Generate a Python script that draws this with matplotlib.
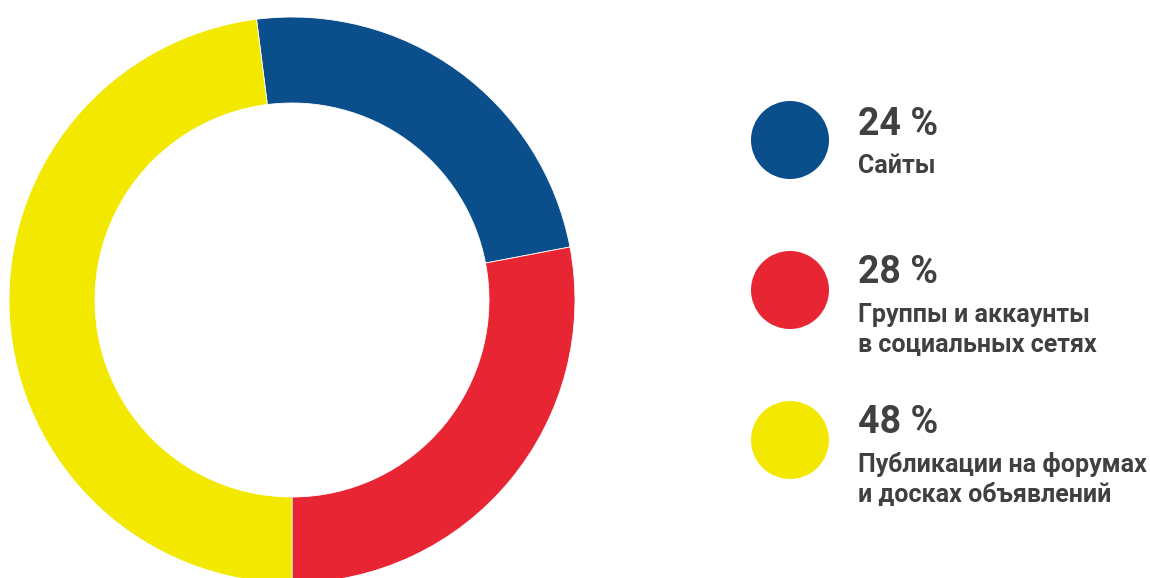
import matplotlib.pyplot as plt
from matplotlib.patches import Circle

# data
labels = ['Сайты', 'Группы и аккаунты\nв социальных сетях', 'Публикации на форумах\nи досках объявлений']
shares = [24, 28, 48]
colors = ['#0A4F8B', '#E82532', '#F2E800']
text_color = '#404040'

W, H = 1150, 578
fig = plt.figure(figsize=(W / 100, H / 100), dpi=100)

# donut: center (292, 300) px, outer radius 283 px, inner 197 px
cx, cy, r_out, r_in = 292, 300, 283, 197
ax = fig.add_axes([(cx - r_out) / W, (H - cy - r_out) / H, 2 * r_out / W, 2 * r_out / H])
ax.pie(shares, colors=colors, startangle=97.2, counterclock=False,
       radius=1, wedgeprops=dict(width=(r_out - r_in) / r_out, edgecolor='white', linewidth=0.6))
ax.set_xlim(-1, 1)
ax.set_ylim(-1, 1)
ax.set_aspect('equal')
ax.axis('off')

# legend in pixel coordinates
lg = fig.add_axes([0, 0, 1, 1])
lg.set_xlim(0, W)
lg.set_ylim(H, 0)
lg.axis('off')

circle_y = [140, 290, 440]
pct_base = [135, 283, 433]
label_base = [173, 322, 472]
for i, (lab, s, c) in enumerate(zip(labels, shares, colors)):
    lg.add_patch(Circle((790, circle_y[i]), 39, color=c, lw=0))
    lg.text(858, pct_base[i], f'{s} %', fontsize=27, fontweight='bold',
            family='Roboto', color=text_color, va='baseline', ha='left')
    for j, line in enumerate(lab.split('\n')):
        lg.text(858, label_base[i] + 30 * j, line, fontsize=18, fontweight='bold',
                family='Roboto', color=text_color, va='baseline', ha='left')

fig.savefig('out.png', dpi=100)
